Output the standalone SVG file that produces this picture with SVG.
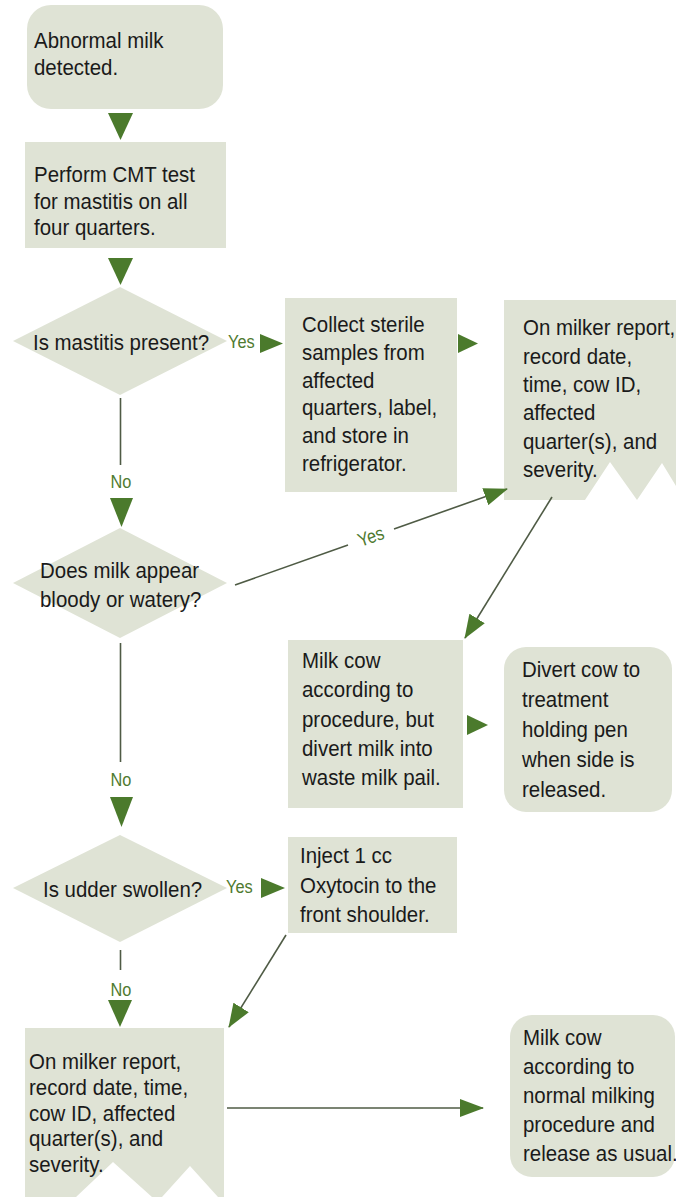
<svg xmlns="http://www.w3.org/2000/svg" width="676" height="1197" viewBox="0 0 676 1197">
<defs>
<style>
.box{fill:#dfe3d5;}
.t{font-family:"Liberation Sans",Arial,sans-serif;font-size:22px;fill:#1a1a1a;}
.lbl{font-family:"Liberation Sans",Arial,sans-serif;font-size:19px;fill:#4f7a30;}
.ln{stroke:#4f5b45;stroke-width:1.6;fill:none;}
.ah{fill:#4b7a2c;}
</style>
<marker id="arr" markerUnits="userSpaceOnUse" markerWidth="24" markerHeight="18" refX="23" refY="9" orient="auto">
<path d="M0,0 L24,9 L0,18 Z" class="ah"/>
</marker>
</defs>
<rect width="676" height="1197" fill="#ffffff"/>

<g id="n-abnormal">
<rect class="box" x="27" y="5" width="196" height="104" rx="24"/>
<text class="t" transform="translate(34,48) scale(0.93,1)">Abnormal milk</text>
<text class="t" transform="translate(34,75) scale(0.93,1)">detected.</text>
</g>

<g id="n-cmt">
<rect class="box" x="25" y="142" width="201" height="106"/>
<text class="t" transform="translate(34,182) scale(0.93,1)">Perform CMT test</text>
<text class="t" transform="translate(34,208.5) scale(0.93,1)">for mastitis on all</text>
<text class="t" transform="translate(34,235) scale(0.93,1)">four quarters.</text>
</g>

<g id="d-mastitis">
<polygon class="box" points="120,287 227,341 120,395 13,341"/>
<text class="t" transform="translate(33,350) scale(0.93,1)">Is mastitis present?</text>
</g>

<g id="n-collect">
<rect class="box" x="285" y="298" width="172" height="194"/>
<text class="t" transform="translate(302,332) scale(0.93,1)">Collect sterile</text>
<text class="t" transform="translate(302,360) scale(0.93,1)">samples from</text>
<text class="t" transform="translate(302,387.5) scale(0.93,1)">affected</text>
<text class="t" transform="translate(302,415) scale(0.93,1)">quarters, label,</text>
<text class="t" transform="translate(302,443) scale(0.93,1)">and store in</text>
<text class="t" transform="translate(302,470.5) scale(0.93,1)">refrigerator.</text>
</g>

<g id="n-report1">
<path class="box" d="M504,300 H676 V486 L662,463 L637,500 L610,462 L585,500 H504 Z"/>
<text class="t" transform="translate(523,335) scale(0.93,1)">On milker report,</text>
<text class="t" transform="translate(523,363.5) scale(0.93,1)">record date,</text>
<text class="t" transform="translate(523,392) scale(0.93,1)">time, cow ID,</text>
<text class="t" transform="translate(523,420) scale(0.93,1)">affected</text>
<text class="t" transform="translate(523,448.5) scale(0.93,1)">quarter(s), and</text>
<text class="t" transform="translate(523,477) scale(0.93,1)">severity.</text>
</g>

<g id="d-bloody">
<polygon class="box" points="120,528 227,583 120,638 13,583"/>
<text class="t" transform="translate(40,578) scale(0.93,1)">Does milk appear</text>
<text class="t" transform="translate(40,607) scale(0.93,1)">bloody or watery?</text>
</g>

<g id="n-milkdivert">
<rect class="box" x="288" y="640" width="175" height="168"/>
<text class="t" transform="translate(302,668) scale(0.93,1)">Milk cow</text>
<text class="t" transform="translate(302,697) scale(0.93,1)">according to</text>
<text class="t" transform="translate(302,726.5) scale(0.93,1)">procedure, but</text>
<text class="t" transform="translate(302,756) scale(0.93,1)">divert milk into</text>
<text class="t" transform="translate(302,785) scale(0.93,1)">waste milk pail.</text>
</g>

<g id="n-divertcow">
<rect class="box" x="504" y="647" width="168" height="165" rx="22"/>
<text class="t" transform="translate(522,677) scale(0.93,1)">Divert cow to</text>
<text class="t" transform="translate(522,707) scale(0.93,1)">treatment</text>
<text class="t" transform="translate(522,737) scale(0.93,1)">holding pen</text>
<text class="t" transform="translate(522,767) scale(0.93,1)">when side is</text>
<text class="t" transform="translate(522,797) scale(0.93,1)">released.</text>
</g>

<g id="d-udder">
<polygon class="box" points="120,835 227,888 120,942 13,888"/>
<text class="t" transform="translate(43,897) scale(0.93,1)">Is udder swollen?</text>
</g>

<g id="n-inject">
<rect class="box" x="288" y="837" width="169" height="96"/>
<text class="t" transform="translate(300,863) scale(0.93,1)">Inject 1 cc</text>
<text class="t" transform="translate(300,893) scale(0.93,1)">Oxytocin to the</text>
<text class="t" transform="translate(300,922) scale(0.93,1)">front shoulder.</text>
</g>

<g id="n-report2">
<path class="box" d="M25,1028 H224 V1197 H218 L190,1166 L162,1197 H152 L113,1162 L76,1197 H25 Z"/>
<text class="t" transform="translate(29,1069) scale(0.93,1)">On milker report,</text>
<text class="t" transform="translate(29,1095) scale(0.93,1)">record date, time,</text>
<text class="t" transform="translate(29,1121) scale(0.93,1)">cow ID, affected</text>
<text class="t" transform="translate(29,1146) scale(0.93,1)">quarter(s), and</text>
<text class="t" transform="translate(29,1172) scale(0.93,1)">severity.</text>
</g>

<g id="n-milknormal">
<rect class="box" x="510" y="1015" width="165" height="162" rx="22"/>
<text class="t" transform="translate(523,1045) scale(0.93,1)">Milk cow</text>
<text class="t" transform="translate(523,1074) scale(0.93,1)">according to</text>
<text class="t" transform="translate(523,1103) scale(0.93,1)">normal milking</text>
<text class="t" transform="translate(523,1132) scale(0.93,1)">procedure and</text>
<text class="t" transform="translate(523,1161) scale(0.93,1)">release as usual.</text>
</g>

<g id="connectors">
<polygon class="ah" points="108,113 133,113 120.5,140"/>
<polygon class="ah" points="108,258 133,258 120.5,285"/>

<text class="lbl" transform="translate(228,348) scale(0.86,1)">Yes</text>
<polygon class="ah" points="260,334 260,353 283,343.5"/>
<polygon class="ah" points="458,334 458,353 478,343.5"/>

<line class="ln" x1="120.5" y1="398" x2="120.5" y2="465"/>
<text class="lbl" text-anchor="middle" transform="translate(121,488) scale(0.86,1)">No</text>
<polygon class="ah" points="110,498 133,498 121.5,527"/>

<line class="ln" x1="235" y1="585" x2="348" y2="545"/>
<line class="ln" x1="394" y1="529" x2="507" y2="489" marker-end="url(#arr)"/>
<text class="lbl" text-anchor="middle" transform="rotate(-19.4 371 537) translate(371,543) scale(0.86,1)">Yes</text>

<line class="ln" x1="552" y1="497" x2="465" y2="638" marker-end="url(#arr)"/>
<polygon class="ah" points="467,715 467,735 488,725"/>

<line class="ln" x1="120.5" y1="643" x2="120.5" y2="762"/>
<text class="lbl" text-anchor="middle" transform="translate(121,786) scale(0.86,1)">No</text>
<polygon class="ah" points="110,797 133,797 121.5,827"/>

<text class="lbl" transform="translate(226,893) scale(0.86,1)">Yes</text>
<polygon class="ah" points="261,878 261,898 285,888"/>

<line class="ln" x1="120.5" y1="950" x2="120.5" y2="970"/>
<text class="lbl" text-anchor="middle" transform="translate(121,996) scale(0.86,1)">No</text>
<polygon class="ah" points="108,1000 132,1000 120,1027"/>

<line class="ln" x1="286" y1="935" x2="229" y2="1027" marker-end="url(#arr)"/>
<line class="ln" x1="227" y1="1108" x2="483" y2="1108" marker-end="url(#arr)"/>
</g>
</svg>
